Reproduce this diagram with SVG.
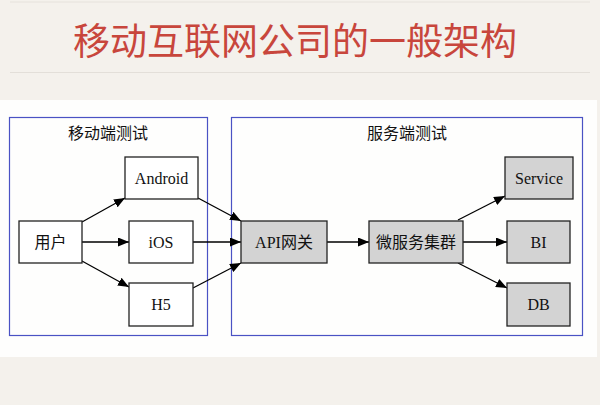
<svg xmlns="http://www.w3.org/2000/svg" width="600" height="405" viewBox="0 0 600 405">
<defs>
<style>
.t{font-family:"Liberation Serif","Noto Sans CJK SC",serif;font-size:16px;fill:#111;text-anchor:middle;dominant-baseline:central}
.n{fill:#fff;stroke:#222;stroke-width:1.3}
.g{fill:#d3d3d3;stroke:#222;stroke-width:1.3}
.c{fill:none;stroke:#4a52c4;stroke-width:1.2}
.e{stroke:#000;stroke-width:1.3;fill:none;marker-end:url(#ah)}
</style>
<marker id="ah" markerWidth="11" markerHeight="9" refX="11" refY="4.5" orient="auto" markerUnits="userSpaceOnUse">
<path d="M0,0 L11,4.5 L0,9 Z" fill="#000"/>
</marker>
</defs>
<rect x="0" y="0" width="600" height="405" fill="#f4f1ec"/>
<line x1="10" y1="2" x2="590" y2="2" stroke="#e6e2dc" stroke-width="1"/>
<line x1="10" y1="72.5" x2="590" y2="72.5" stroke="#e3dfd9" stroke-width="1"/>
<text x="295" y="55" font-family="Liberation Serif,'Noto Sans CJK SC',serif" font-size="37" fill="#c8463c" text-anchor="middle">移动互联网公司的一般架构</text>
<rect x="0" y="100" width="597" height="257" fill="#fefefd"/>
<g id="cluster-mobile">
<rect class="c" x="9.5" y="117.5" width="198" height="218"/>
<text class="t" x="108" y="133">移动端测试</text>
</g>
<g id="cluster-server">
<rect class="c" x="231.5" y="117.5" width="351" height="218"/>
<text class="t" x="407" y="133">服务端测试</text>
</g>
<g id="connectors">
<line class="e" x1="82" y1="222" x2="125" y2="198"/>
<line class="e" x1="82" y1="242" x2="129" y2="242"/>
<line class="e" x1="82" y1="261" x2="129" y2="287"/>
<line class="e" x1="198" y1="198" x2="241" y2="221"/>
<line class="e" x1="193" y1="242" x2="241" y2="242"/>
<line class="e" x1="193" y1="288" x2="241" y2="263"/>
<line class="e" x1="327" y1="242" x2="369" y2="242"/>
<line class="e" x1="458" y1="220" x2="505" y2="196"/>
<line class="e" x1="463" y1="242" x2="507" y2="242"/>
<line class="e" x1="458" y1="263" x2="507" y2="288"/>
</g>
<g id="user"><rect class="n" x="19" y="221" width="63" height="42"/><text class="t" x="50.5" y="242">用户</text></g>
<g id="android"><rect class="n" x="125" y="157" width="73" height="42"/><text class="t" x="161.5" y="178">Android</text></g>
<g id="ios"><rect class="n" x="129" y="221" width="64" height="42"/><text class="t" x="161" y="242">iOS</text></g>
<g id="h5"><rect class="n" x="129" y="283" width="64" height="43"/><text class="t" x="161" y="304.5">H5</text></g>
<g id="api"><rect class="g" x="241" y="221" width="86" height="42"/><text class="t" x="284" y="242">API网关</text></g>
<g id="micro"><rect class="g" x="369" y="221" width="94" height="42"/><text class="t" x="416" y="242">微服务集群</text></g>
<g id="service"><rect class="g" x="505" y="157" width="68" height="42"/><text class="t" x="539" y="178">Service</text></g>
<g id="bi"><rect class="g" x="507" y="221" width="63" height="42"/><text class="t" x="538.5" y="242">BI</text></g>
<g id="db"><rect class="g" x="507" y="283" width="63" height="43"/><text class="t" x="538.5" y="304.5">DB</text></g>
</svg>
